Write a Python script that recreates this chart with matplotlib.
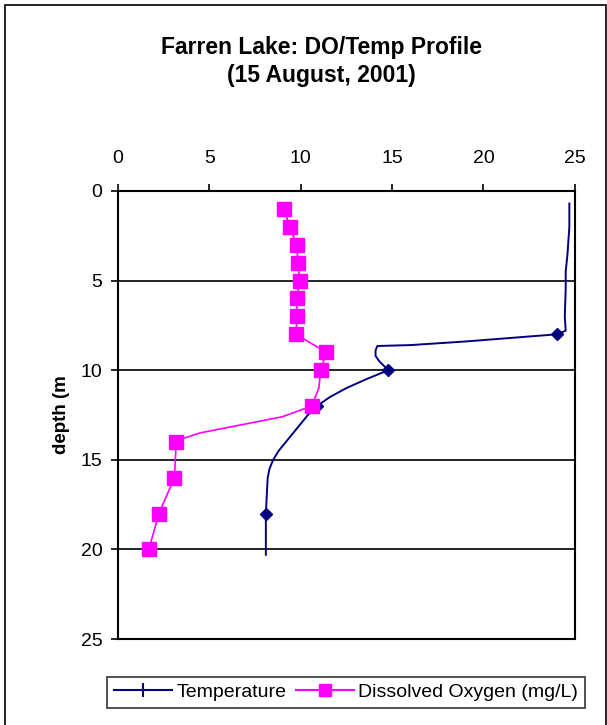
import matplotlib
matplotlib.use("Agg")
import matplotlib.pyplot as plt
from matplotlib.lines import Line2D
from matplotlib.patches import Rectangle

plt.rcParams["font.family"] = ["Liberation Sans", "DejaVu Sans"]

# temperature profile (deg C) vs depth (m)
temp_depth = [0.7, 2.0, 3.5, 4.5, 5.5, 7.0, 7.8, 8.0, 8.2, 8.4, 8.6, 8.65, 8.9, 9.2, 9.5, 10.0,
              10.5, 11.0, 11.5, 12.0, 12.5, 13.0, 13.5, 14.0, 14.5, 15.0, 15.5, 16.0, 17.0, 18.0, 19.0, 20.3]
temp_val = [24.7, 24.7, 24.6, 24.5, 24.5, 24.45, 24.5, 24.0, 21.5, 19.0, 16.0, 14.2, 14.1, 14.1, 14.3, 14.8,
            13.6, 12.5, 11.6, 10.9, 10.4, 10.0, 9.6, 9.2, 8.8, 8.5, 8.3, 8.2, 8.15, 8.1, 8.1, 8.1]
temp_marker_idx = [7, 15, 19, 29]

do_depth = [1, 2, 3, 4, 5, 6, 7, 8, 9, 10, 12, 14, 16, 18, 20]
do_val = [9.1, 9.4, 9.8, 9.85, 9.95, 9.8, 9.8, 9.75, 11.4, 11.1, 10.6, 3.2, 3.1, 2.25, 1.7]
# smoothed DO line between 12 and 14 m
do_line_depth = [1, 2, 3, 4, 5, 6, 7, 8, 9, 10, 11, 12, 12.6, 13.1, 13.5, 13.8, 14, 16, 18, 20]
do_line_val = [9.1, 9.4, 9.8, 9.85, 9.95, 9.8, 9.8, 9.75, 11.4, 11.1, 11.0, 10.6, 9.0, 6.5, 4.5, 3.6, 3.2, 3.1, 2.25, 1.7]

navy = "#000080"
pink = "#ff00ff"

fig = plt.figure(figsize=(6.07, 7.25), dpi=100)
fig.patches.append(Rectangle((0.008, -0.01), 0.99, 1.003, transform=fig.transFigure,
                             fill=False, edgecolor="black", linewidth=1.2))
ax = fig.add_axes([0.194, 0.1186, 0.753, 0.618])

ax.plot(temp_val, temp_depth, color=navy, lw=1.4, marker="D", markersize=6,
        markevery=temp_marker_idx, zorder=3)
ax.plot(do_line_val, do_line_depth, color=pink, lw=1.2, zorder=2)
ax.plot(do_val, do_depth, ls="none", marker="s", markersize=10, color=pink, zorder=3)

ax.set_xlim(0, 25)
ax.set_ylim(25, 0)
ax.set_xticks(range(0, 26, 5))
ax.set_yticks(range(0, 26, 5))
ax.xaxis.tick_top()
ax.tick_params(labelsize=14, length=5, width=1.2)
ax.tick_params(axis="x", pad=12)
ax.tick_params(axis="y", pad=6)
for y in (5, 10, 15, 20):
    ax.axhline(y, color="black", lw=1.2, zorder=1)
for s in ax.spines.values():
    s.set_linewidth(1.5)
ax.set_ylabel("depth (m", fontsize=13.5, fontweight="bold", labelpad=8)

fig.text(0.53, 0.915, "Farren Lake: DO/Temp Profile\n(15 August, 2001)", ha="center", va="center",
         fontsize=16.5, fontweight="bold", linespacing=1.3)

handles = [Line2D([], [], color=navy, marker="|", markersize=10, markeredgewidth=1.5),
           Line2D([], [], color=pink, marker="s", markersize=9)]
leg = fig.legend(handles, ["Temperature", "Dissolved Oxygen (mg/L)"], loc="center",
                 bbox_to_anchor=(0.57, 0.045), ncol=2, fontsize=14, frameon=True,
                 fancybox=False, edgecolor="black", handlelength=3, columnspacing=0.5,
                 handletextpad=0.2, borderpad=0.35, borderaxespad=0)
leg.get_frame().set_linewidth(1.2)

fig.savefig("out.png", dpi=100)
